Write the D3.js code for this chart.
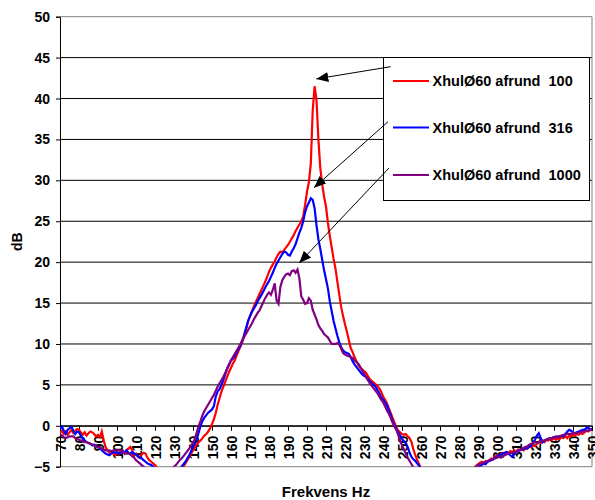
<!DOCTYPE html>
<html>
<head>
<meta charset="utf-8">
<script src="https://cdn.jsdelivr.net/npm/d3@7"></script>
<style>
  html, body { margin: 0; padding: 0; background: #fff; }
  svg { display: block; font-family: Arial, "Liberation Sans", sans-serif; }
  text { white-space: pre; }
</style>
</head>
<body>
<svg id="chart" width="595" height="500"></svg>
<script>
// Frequency grid (Hz), 1 Hz resolution
const freqStart = 70, freqEnd = 350;
const freqs = d3.range(freqStart, freqEnd + 1);

// Axis ticks
const xTicks = d3.range(70, 351, 10);
const yTicks = [-5, 0, 5, 10, 15, 20, 25, 30, 35, 40, 45, 50];

// Series names
const seriesNames = ["XhulØ60 afrund  100", "XhulØ60 afrund  316", "XhulØ60 afrund  1000"];

// dB values, one per Hz from 70 to 350
const afrund100 = [
  -0.8,-0.6,-1.0,-0.7,-1.1,-0.8,-0.5,-0.9,-0.6,-0.4,
  -0.5,-0.8,-1.1,-0.8,-1.2,-0.9,-0.7,-0.8,-1.0,-1.3,
  -1.1,-1.4,-0.7,-1.8,-2.6,-3.0,-3.3,-3.2,-3.4,-3.6,
  -3.3,-3.5,-3.2,-3.0,-3.4,-3.0,-2.8,-2.6,-3.0,-3.6,
  -3.4,-3.8,-3.9,-3.5,-3.3,-3.4,-3.9,-4.2,-4.4,-4.6,
  -4.8,-5.1,-5.4,-5.6,-5.8,-5.9,-6.0,-6.0,-5.9,-6.0,
  -6.0,-5.9,-5.8,-5.6,-5.3,-5.0,-4.6,-4.2,-3.8,-3.4,
  -3.0,-2.6,-2.3,-2.0,-1.8,-1.5,-1.2,-1.0,-0.7,-0.3,
  0.2,0.8,1.6,2.6,3.4,4.2,4.8,5.4,6.0,6.6,
  7.1,7.6,8.0,8.6,9.2,9.7,10.3,11.0,11.8,12.8,
  13.4,14.0,14.6,15.1,15.6,16.1,16.6,17.1,17.6,18.2,
  18.8,19.3,19.7,20.1,20.6,21.0,21.3,21.2,21.5,21.8,
  22.1,22.5,22.9,23.3,23.8,24.2,24.6,25.0,25.6,27.0,
  28.6,29.8,32.0,38.5,41.5,39.8,35.0,31.5,29.5,28.0,
  26.8,24.8,23.2,21.8,20.4,19.2,17.6,16.0,14.5,13.4,
  12.4,11.5,10.5,9.5,9.0,8.4,7.9,7.4,7.1,6.9,
  6.7,6.5,6.1,5.7,5.5,5.3,5.1,4.9,4.6,4.2,
  3.6,3.2,2.8,2.2,1.6,1.0,0.4,-0.2,-0.6,-0.8,
  -1.0,-1.1,-1.0,-1.3,-1.5,-2.0,-2.9,-3.6,-4.2,-4.7,
  -5.2,-5.8,-6.2,-6.5,-6.8,-7.0,-7.1,-7.3,-7.2,-7.4,
  -7.3,-7.5,-7.4,-7.3,-7.4,-7.2,-7.3,-7.1,-7.0,-6.9,
  -6.8,-6.6,-6.5,-6.3,-6.1,-5.9,-5.7,-5.5,-5.2,-4.9,
  -4.7,-4.5,-4.4,-4.6,-4.3,-4.4,-4.2,-4.0,-4.1,-3.8,
  -3.6,-3.7,-3.4,-3.3,-3.5,-3.2,-3.3,-3.1,-3.2,-3.0,
  -3.2,-2.9,-3.0,-2.8,-3.0,-2.7,-2.8,-2.5,-2.6,-2.4,
  -2.5,-2.2,-2.0,-2.1,-1.9,-2.0,-1.7,-1.8,-1.6,-1.7,
  -1.5,-1.7,-1.5,-1.6,-1.4,-1.5,-1.3,-1.5,-1.2,-1.3,
  -1.1,-1.2,-1.0,-1.1,-0.9,-1.0,-0.8,-0.6,-0.7,-0.5,
  -0.4
];

const afrund316 = [
  -0.4,-0.1,-0.6,-1.0,-0.5,-0.3,-0.1,-0.6,-1.0,-0.7,
  -0.8,-1.2,-1.6,-1.8,-2.0,-2.1,-2.2,-2.4,-2.3,-2.5,
  -2.6,-2.7,-3.0,-3.2,-3.4,-3.5,-3.6,-3.4,-3.2,-3.3,
  -3.2,-3.4,-3.3,-3.1,-3.3,-3.0,-3.3,-3.4,-3.2,-3.4,
  -3.5,-3.7,-3.9,-4.0,-4.2,-4.4,-4.6,-4.7,-4.8,-5.0,
  -5.2,-5.4,-5.6,-5.8,-5.9,-6.0,-6.0,-6.1,-6.0,-5.9,
  -5.8,-5.7,-5.5,-5.3,-5.0,-4.7,-4.4,-4.0,-3.6,-3.1,
  -2.6,-2.1,-1.6,-0.8,0.0,0.6,1.0,1.3,1.6,1.8,
  2.0,2.4,3.6,4.2,4.5,5.0,5.6,6.3,7.0,7.5,
  8.0,8.2,8.5,9.0,9.4,9.8,10.4,11.2,12.0,12.8,
  13.4,13.9,14.3,14.7,15.2,15.6,16.0,16.4,16.9,17.3,
  17.7,18.2,18.7,19.3,19.8,20.2,20.6,21.0,21.3,21.2,
  20.9,20.8,21.3,21.7,22.2,22.9,23.6,24.2,25.0,26.1,
  26.8,27.3,27.8,27.6,26.6,24.5,22.8,21.6,20.3,19.0,
  17.9,16.8,15.2,14.0,12.8,11.9,11.0,10.2,9.6,9.2,
  9.0,8.9,8.8,8.4,7.9,7.5,7.2,6.9,6.6,6.3,
  6.1,6.0,5.7,5.5,5.2,5.0,4.8,4.4,4.0,3.5,
  3.2,2.9,2.5,1.9,1.3,0.6,0.1,-0.4,-0.8,-1.2,
  -1.6,-1.9,-2.1,-2.6,-3.3,-3.8,-4.1,-4.3,-4.6,-4.9,
  -5.3,-5.7,-6.1,-6.4,-6.7,-6.9,-7.0,-7.2,-7.1,-7.3,
  -7.2,-7.4,-7.3,-7.2,-7.3,-7.1,-7.2,-7.0,-7.1,-6.9,
  -6.8,-6.7,-6.5,-6.4,-6.2,-6.0,-5.9,-5.7,-5.5,-5.4,
  -5.2,-4.9,-4.8,-4.6,-4.7,-4.4,-4.3,-4.2,-4.1,-3.9,
  -3.8,-3.6,-3.5,-3.4,-3.3,-3.2,-3.4,-3.6,-3.8,-3.5,
  -3.2,-3.1,-3.0,-2.9,-2.8,-2.8,-2.7,-2.6,-2.4,-2.1,
  -1.7,-1.2,-0.9,-1.5,-2.0,-1.8,-1.7,-1.6,-1.5,-1.5,
  -1.4,-1.3,-1.4,-1.3,-1.2,-1.3,-1.0,-0.7,-0.5,-0.6,
  -0.8,-0.9,-0.8,-0.7,-0.6,-0.5,-0.5,-0.3,-0.2,-0.5,
  -0.4
];

const afrund1000 = [
  -1.0,-1.2,-1.4,-1.5,-1.4,-1.3,-1.3,-1.3,-1.5,-1.6,
  -1.7,-1.8,-1.9,-2.0,-2.0,-2.1,-2.2,-2.3,-2.4,-2.5,
  -2.6,-2.6,-2.8,-2.9,-3.0,-3.0,-3.0,-3.1,-3.0,-3.0,
  -3.0,-3.0,-3.1,-3.2,-3.3,-3.4,-3.4,-3.5,-3.7,-3.9,
  -4.2,-4.4,-4.6,-4.8,-5.0,-5.2,-5.4,-5.6,-5.7,-5.8,
  -5.9,-5.9,-6.0,-6.0,-5.9,-5.8,-5.7,-5.6,-5.5,-5.3,
  -5.0,-4.8,-4.5,-4.2,-4.0,-3.7,-3.4,-3.1,-2.8,-2.4,
  -2.1,-1.6,-0.8,0.0,0.6,1.3,1.8,2.2,2.6,3.0,
  3.4,3.8,4.3,4.8,5.2,5.6,6.0,6.5,7.0,7.5,
  8.0,8.4,8.8,9.2,9.6,10.0,10.5,10.9,11.3,11.7,
  12.1,12.5,13.0,13.4,13.8,14.1,14.6,15.1,15.6,16.0,
  16.3,16.0,16.6,17.4,15.3,14.9,17.0,17.8,18.2,18.5,
  18.6,18.4,18.9,19.0,18.7,19.1,18.0,15.8,15.4,14.9,
  15.0,15.6,15.3,14.2,13.6,13.0,12.3,11.9,11.6,11.2,
  11.0,10.8,10.4,10.0,10.0,10.0,10.1,9.9,9.4,8.9,
  8.7,8.6,8.5,8.4,8.3,8.0,7.8,7.6,7.2,6.8,
  6.4,6.0,5.6,5.2,4.9,4.6,4.3,4.0,3.6,3.2,
  2.9,2.4,1.9,1.5,1.0,0.4,-0.1,-0.5,-1.1,-1.8,
  -2.4,-2.9,-3.4,-3.9,-4.3,-4.7,-5.1,-5.5,-5.9,-6.2,
  -6.5,-6.8,-7.0,-7.2,-7.3,-7.4,-7.5,-7.4,-7.5,-7.6,
  -7.5,-7.4,-7.5,-7.3,-7.2,-7.1,-7.0,-6.9,-6.8,-6.7,
  -6.6,-6.5,-6.3,-6.2,-6.0,-5.8,-5.6,-5.4,-5.2,-5.0,
  -4.8,-4.7,-4.6,-4.5,-4.4,-4.3,-4.2,-4.1,-4.0,-4.0,
  -3.9,-3.8,-3.8,-3.8,-3.6,-3.5,-3.4,-3.3,-3.3,-3.2,
  -3.2,-3.0,-2.9,-2.8,-2.7,-2.6,-2.5,-2.3,-2.2,-2.1,
  -2.0,-2.1,-2.0,-1.9,-1.8,-1.8,-1.7,-1.6,-1.5,-1.5,
  -1.4,-1.4,-1.3,-1.3,-1.2,-1.1,-1.1,-1.0,-1.0,-1.0,
  -0.9,-0.9,-0.9,-0.8,-0.8,-0.7,-0.7,-0.6,-0.6,-0.5,
  -0.5
];

// Annotation arrows: from the legend entry to the peak of each curve (Hz, dB)
const arrowTargetsHz = [204.9, 203.7, 195.9];
const arrowTargetsDb = [42.4, 29.1, 19.9];

const seriesColors = ["#ff0000", "#0000ff", "#800080"];
const seriesValues = [afrund100, afrund316, afrund1000];

const svg = d3.select("#chart");
const margin = { left: 60, right: 3, top: 16.7, bottom: 33.3 };
const W = 595, H = 500;

const x = d3.scaleLinear().domain([70, 350]).range([margin.left, W - margin.right]);
const y = d3.scaleLinear().domain([-5, 50]).range([H - margin.bottom, margin.top]);

const fontTick = "bold 14px Arial, 'Liberation Sans', sans-serif";

// Clip region for the curves
svg.append("defs").append("clipPath").attr("id", "plotClip")
  .append("rect")
  .attr("x", x(70)).attr("y", y(50))
  .attr("width", x(350) - x(70)).attr("height", y(-5) - y(50));

// Arrowhead marker
svg.select("defs").append("marker")
  .attr("id", "arrowHead")
  .attr("markerUnits", "userSpaceOnUse")
  .attr("markerWidth", 14).attr("markerHeight", 10)
  .attr("refX", 12).attr("refY", 5)
  .attr("orient", "auto")
  .append("path")
  .attr("d", "M0,0 L12,5 L0,10 Z")
  .attr("fill", "#000");

// Horizontal gridlines (black)
svg.append("g").selectAll("line")
  .data(yTicks.filter(v => v > -5 && v < 50))
  .join("line")
  .attr("x1", x(70)).attr("x2", x(350))
  .attr("y1", d => y(d)).attr("y2", d => y(d))
  .attr("stroke", "#000").attr("stroke-width", 1);

// Plot area border (grey) on top, bottom and right
svg.append("path")
  .attr("d", `M${x(70)},${y(50)} H${x(350)} V${y(-5)} H${x(70)}`)
  .attr("fill", "none").attr("stroke", "#808080").attr("stroke-width", 1);

// Y axis
const yAxis = d3.axisLeft(y).tickValues(yTicks).tickSize(4).tickPadding(6).tickFormat(d3.format("d"));
const gy = svg.append("g").attr("transform", `translate(${x(70)},0)`).call(yAxis);
gy.select(".domain").attr("stroke", "#000");
gy.selectAll(".tick line").attr("stroke", "#000");
gy.selectAll("text").style("font", fontTick).attr("fill", "#000");

// X axis on the 0 dB line, labels rotated
const xAxis = d3.axisBottom(x).tickValues(xTicks).tickSize(5).tickFormat(d3.format("d"));
const gx = svg.append("g").attr("transform", `translate(0,${y(0)})`).call(xAxis);
gx.select(".domain").attr("stroke", "#000");
gx.selectAll(".tick line").attr("stroke", "#000");
gx.selectAll("text")
  .style("font", fontTick).attr("fill", "#000")
  .attr("text-anchor", "end")
  .attr("transform", "rotate(-90)")
  .attr("x", -10).attr("y", 0).attr("dy", "0.36em");

// Axis titles
svg.append("text")
  .attr("transform", `translate(22,${(y(50) + y(-5)) / 2}) rotate(-90)`)
  .attr("text-anchor", "middle")
  .style("font", "bold 14px Arial, 'Liberation Sans', sans-serif")
  .text("dB");

svg.append("text")
  .attr("x", (x(70) + x(350)) / 2).attr("y", 497)
  .attr("text-anchor", "middle")
  .style("font", "bold 15px Arial, 'Liberation Sans', sans-serif")
  .text("Frekvens Hz");

// Curves
const line = d3.line().x(d => x(d[0])).y(d => y(d[1]));
const gLines = svg.append("g").attr("clip-path", "url(#plotClip)");
seriesValues.forEach((vals, i) => {
  gLines.append("path")
    .datum(freqs.map((f, k) => [f, vals[k]]))
    .attr("d", line)
    .attr("fill", "none")
    .attr("stroke", seriesColors[i])
    .attr("stroke-width", 2.2)
    .attr("stroke-linejoin", "miter");
});

// Legend
const legend = { x: 383, y: 57, w: 206, h: 143 };
svg.append("rect")
  .attr("x", legend.x + 0.5).attr("y", legend.y + 0.5)
  .attr("width", legend.w).attr("height", legend.h)
  .attr("fill", "#fff").attr("stroke", "#000").attr("stroke-width", 1);

const legendRowY = [81, 127.5, 175];
seriesNames.forEach((name, i) => {
  const g = svg.append("g");
  g.append("line")
    .attr("x1", 393).attr("x2", 429)
    .attr("y1", legendRowY[i]).attr("y2", legendRowY[i])
    .attr("stroke", seriesColors[i]).attr("stroke-width", 2.2);
  g.append("text")
    .attr("x", 432.5).attr("y", legendRowY[i]).attr("dy", "0.36em")
    .style("font", "bold 14.5px Arial, 'Liberation Sans', sans-serif")
    .text(name);
});

// Arrows from legend to curves
const arrowStarts = [[390.7, 66.7], [388, 121.7], [389, 168]];
arrowStarts.forEach((s, i) => {
  svg.append("line")
    .attr("x1", s[0]).attr("y1", s[1])
    .attr("x2", x(arrowTargetsHz[i])).attr("y2", y(arrowTargetsDb[i]))
    .attr("stroke", "#000").attr("stroke-width", 1)
    .attr("marker-end", "url(#arrowHead)");
});
</script>
</body>
</html>
